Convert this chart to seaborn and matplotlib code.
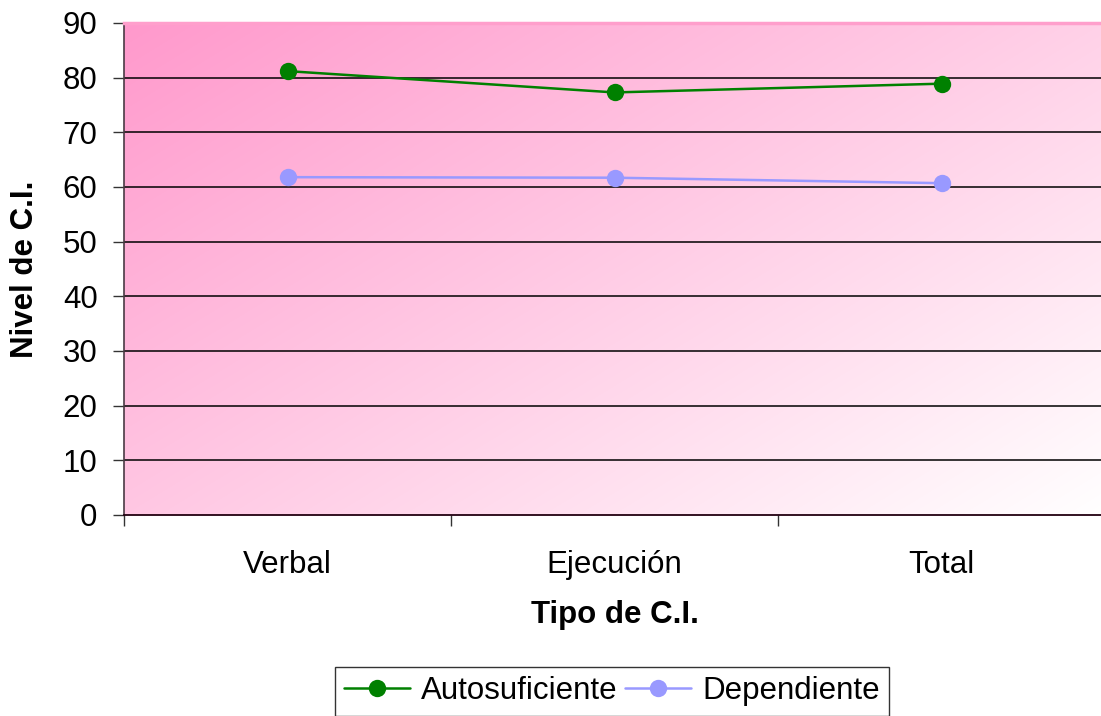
import numpy as np
import pandas as pd
import matplotlib
matplotlib.use("Agg")
import matplotlib.pyplot as plt
import seaborn as sns
from matplotlib.colors import to_rgb
from matplotlib.ticker import FixedLocator
from matplotlib.lines import Line2D

categories = ["Verbal", "Ejecución", "Total"]
autosuficiente = [81.2, 77.3, 78.9]
dependiente = [61.8, 61.7, 60.7]
series_names = ["Autosuficiente", "Dependiente"]
y_ticks = [0, 10, 20, 30, 40, 50, 60, 70, 80, 90]

df = pd.DataFrame({
    "Tipo": categories * 2,
    "Valor": autosuficiente + dependiente,
    "Serie": [series_names[0]] * 3 + [series_names[1]] * 3,
})

sns.set_theme(style="white")
plt.rcParams["font.family"] = ["Liberation Sans", "DejaVu Sans"]
plt.rcParams["text.color"] = "black"

FS = 22.5
W, H = 1101, 716
fig = plt.figure(figsize=(W / 100, H / 100), dpi=100)
ax = fig.add_axes([124 / W, 1 - 515 / H, (1105 - 124) / W, (515 - 23) / H])

# gradient background (top-left saturated pink -> bottom-right white)
c0 = np.array(to_rgb("#FF99CC"))
c1 = np.array(to_rgb("#FFFFFF"))
u = np.linspace(0, 1, 400)[None, :]
v = np.linspace(0, 1, 200)[:, None]  # 0 at top row
t = 0.55 * u + 0.45 * v
img = c0[None, None, :] * (1 - t[..., None]) + c1[None, None, :] * t[..., None]
ax.imshow(img, extent=[0, 1, 0, 1], origin="upper", transform=ax.transAxes,
          aspect="auto", zorder=0, interpolation="bilinear")

for yv in y_ticks[1:-1]:
    ax.axhline(yv, color="black", lw=1.1, zorder=1)

palette = {"Autosuficiente": "#008000", "Dependiente": "#9999FF"}
sns.lineplot(data=df, x="Tipo", y="Valor", hue="Serie", palette=palette,
             marker="o", markersize=12.5, markeredgewidth=0, linewidth=1.8,
             ax=ax, legend=False, zorder=3)

ax.set_xlim(-0.5, 2.5)
ax.set_ylim(0, 90)
ax.set_yticks(y_ticks)
ax.set_xticks(range(len(categories)))
ax.set_xticklabels(categories)
ax.xaxis.set_minor_locator(FixedLocator([-0.5, 0.5, 1.5, 2.5]))
ax.tick_params(axis="x", which="major", length=0, pad=25, labelsize=FS, colors="black")
ax.tick_params(axis="x", which="minor", length=8, width=1, color="#333333", bottom=True)
ax.tick_params(axis="y", which="major", length=8, width=1, pad=11, labelsize=FS,
               left=True, color="#333333", labelcolor="black")

ax.spines["right"].set_visible(False)
ax.spines["top"].set_color("#FF9FCC")
ax.spines["top"].set_linewidth(2.5)
ax.spines["left"].set_color("#4A3A44")
ax.spines["left"].set_linewidth(1.2)
ax.spines["bottom"].set_color("#220010")
ax.spines["bottom"].set_linewidth(1.3)

ax.set_xlabel("Tipo de C.I.", fontsize=FS, fontweight="bold", color="black")
ax.xaxis.set_label_coords(0.5, (515 - 600) / 492)
ax.set_ylabel("Nivel de C.I.", fontsize=FS, fontweight="bold", color="black")
ax.yaxis.set_label_coords((40 - 124) / 981, 0.5)

handles = [Line2D([], [], color=palette[n], marker="o", markersize=12.5,
                  markeredgewidth=0, lw=1.8) for n in series_names]
leg = fig.legend(handles, series_names, loc="upper center",
                 bbox_to_anchor=(612 / W, 1 - 667 / H), ncol=2, fontsize=FS,
                 frameon=True, fancybox=False, edgecolor="black",
                 handlelength=2.1, handletextpad=0.35, columnspacing=0.25,
                 borderpad=0.3, borderaxespad=0)
leg.get_frame().set_linewidth(1.0)
for txt in leg.get_texts():
    txt.set_color("black")

fig.savefig("out.png", dpi=100)
